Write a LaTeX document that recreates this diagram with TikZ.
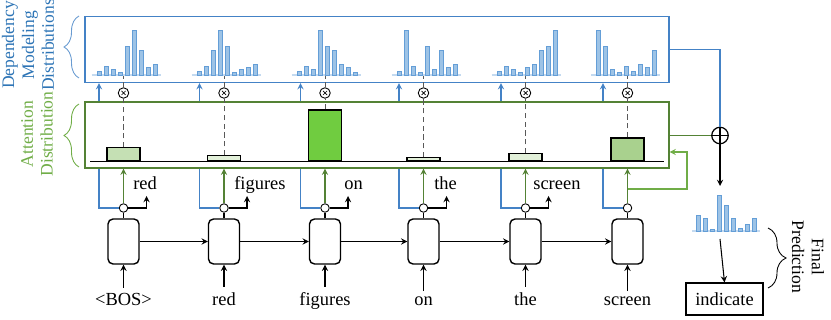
\documentclass[tikz,border=0pt]{standalone}
\usepackage{fontspec}
\setmainfont{Liberation Serif}
\usetikzlibrary{decorations.pathreplacing}
\definecolor{DepBlue}{RGB}{68,130,198}
\definecolor{DepText}{RGB}{46,117,182}
\definecolor{HistFill}{RGB}{157,195,230}
\definecolor{HistEdge}{RGB}{100,158,215}
\definecolor{HistBase}{RGB}{196,218,240}
\definecolor{AttGreen}{RGB}{84,130,53}
\definecolor{AttText}{RGB}{112,173,71}
\definecolor{BarPale}{RGB}{226,240,217}
\definecolor{BarLight}{RGB}{197,224,180}
\definecolor{BarMid}{RGB}{169,209,142}
\definecolor{BarBright}{RGB}{112,204,64}

\begin{document}
\begin{tikzpicture}[x=0.02cm, y=-0.02cm,
        every node/.style={font=\fontsize{10.5}{11.5}\selectfont},
        sidelabel/.style={align=center, font=\fontsize{10}{11.3}\selectfont},
        distbox/.style={draw=DepBlue, line width=0.7pt, minimum width=11.68cm, minimum height=1.32cm, inner sep=0},
        attbox/.style={draw=AttGreen, line width=0.7pt, minimum width=11.68cm, minimum height=1.32cm, inner sep=0},
        cell/.style={draw, line width=0.8pt, rounded corners=0.1cm, minimum width=0.62cm, minimum height=0.9cm, inner sep=0},
        junc/.style={circle, draw, fill=white, line width=0.5pt, minimum size=0.17cm, inner sep=0},
        mult/.style={circle, draw, fill=white, line width=0.5pt, minimum size=0.21cm, inner sep=0,
            path picture={\draw[line width=0.4pt] ([shift={(-2,-2)}]path picture bounding box.center) -- ([shift={(2,2)}]path picture bounding box.center)
                ([shift={(-2,2)}]path picture bounding box.center) -- ([shift={(2,-2)}]path picture bounding box.center);}},
        plus/.style={circle, draw, fill=white, line width=0.7pt, minimum size=0.33cm, inner sep=0,
            path picture={\draw[line width=0.7pt] (path picture bounding box.north) -- (path picture bounding box.south)
                (path picture bounding box.west) -- (path picture bounding box.east);}},
        attbar/.style={draw, line width=0.7pt, minimum width=0.66cm, inner sep=0, anchor=south},
        histbar/.style={fill=HistFill, draw=HistEdge, line width=0.4pt},
        histbase/.style={HistBase, line width=0.9pt},
        dashline/.style={densely dashed, gray!70!black, line width=0.5pt},
        wire/.style={>=stealth, line width=0.6pt},
        bluewire/.style={>=stealth, line width=0.6pt, DepBlue},
        greenwire/.style={>=stealth, line width=0.6pt, AttGreen},
        sidebrace/.style={decorate, decoration={brace, amplitude=0.3cm}, line width=0.5pt}
    ]
    \useasboundingbox (0,0) rectangle (831,320);

    % Boxes
    \node[distbox] (dep) at (377,49.5) {};
    \node[attbox] (att) at (377,135) {};
    \draw[line width=0.75pt] (90,161.5) -- (664,161.5);

    % Side labels
    \node[sidelabel, rotate=90, text=DepText] (deplbl) at (28,45) {Dependency\\Modeling\\Distributions};
    \draw[sidebrace, DepBlue!80] (79,78) -- (79,16);
    \node[sidelabel, rotate=90, text=AttText] (attlbl) at (37,134) {Attention\\Distribution};
    \draw[sidebrace, AttText] (79,167) -- (79,104);

    % Decoder columns
    \foreach \i/\cx/\w in {1/123.5/{<BOS>}, 2/224/red, 3/325/figures, 4/423.5/on, 5/525.5/the, 6/627.5/screen} {
        \node[cell] (c\i) at (\cx,241.5) {};
        \node[junc] (j\i) at (\cx,208) {};
        \node[mult] (m\i) at (\cx,93) {};
        \node[anchor=base] (in\i) at (\cx,306) {\w};
        \coordinate (b\i) at (\cx-24.5,90);
        \coordinate (h\i) at (\cx,75);
        \draw[wire,->] (in\i) -- (c\i.south);
        \draw[wire] (c\i.north) -- (j\i.south);
        \draw[greenwire,->] (j\i.north) -- (j\i |- att.south);
        \draw[bluewire] (j\i.west) -| (b\i |- att.south);
        \draw[bluewire,->] (b\i |- att.north) -- (b\i |- dep.south);
    }
    \foreach \i [count=\k from 2] in {1,...,5}
        \draw[wire,->] (c\i.east) -- (c\k.west);

    % Predicted words
    \foreach \i/\cx/\x/\w in {1/123.5/133/red, 2/224/234/figures, 3/325/344/on, 4/423.5/434/the, 5/525.5/533/screen} {
        \coordinate (o\i) at (\cx+23,196);
        \draw[wire,->] (j\i.east) -| (o\i);
        \node[anchor=base west, inner sep=0] (w\i) at (\x,190) {\w};
    }

    % Attention weights
    \foreach \i/\cx/\bh/\col in {1/123.5/0.26/BarLight, 2/224/0.10/BarPale, 3/325/1.02/BarBright, 4/423.5/0.06/BarPale, 5/525.5/0.14/BarPale, 6/627.5/0.46/BarMid} {
        \node[attbar, fill=\col, minimum height=\bh cm] (a\i) at (\cx,161.5) {};
        \draw[dashline] (a\i.north) -- (m\i.south);
        \draw[dashline] (m\i.north) -- (h\i);
    }

    % Dependency modeling histograms
    \foreach \x/\hs in {99.3/{4,9,5.7,2.7,29,45,25,7.7,10.7}, 199.3/{4,9,25,45,29,2.7,5.7,7.7,10.7},
            299.3/{4,9,5.7,45,29,25,10.7,7.7,2.7}, 399.3/{4,45,9,2.7,29,5.7,25,7.7,10.7},
            499.3/{4,9,5.7,2.7,7.7,10.7,25,29,45}, 598.7/{45,29,5.7,2.7,9,4,10.7,7.7,25}} {
        \draw[histbase] (\x-7.6,75) -- (\x+61.5,75);
        \foreach \h [count=\k from 0] in \hs
            \draw[histbar] (\x+7*\k-2,75) rectangle ++(4,-\h);
    }

    % Feedback of the last step
    \coordinate (fbs) at (627.5,189);
    \coordinate (fbc) at (687,152);
    \draw[AttText, line width=0.6pt, >=stealth, ->] (fbs) -| (fbc) -- (att.east |- fbc);

    % Combination and final prediction
    \node[plus] (sum) at (720,135.5) {};
    \draw[greenwire] (att.east |- sum) -- (sum.west);
    \draw[bluewire] (dep.east) -| (sum.north);
    \coordinate (fin) at (720,186);
    \coordinate (fout) at (720,239);
    \draw[wire,->] (sum.south) -- (fin);
    \draw[histbase] (692,231) -- (760,231);
    \foreach \h [count=\k from 0] in {16,12.7,1.7,36,26,12.7,2.7,7,12.7}
        \draw[histbar] (698.7+7*\k-2,231) rectangle ++(4,-\h);
    \node[draw, line width=0.6pt, minimum width=1.54cm, minimum height=0.64cm] (ind) at (724.5,299) {indicate};
    \draw[wire,->] (fout) -- (ind.north);
    \draw[sidebrace, decoration={amplitude=0.36cm}] (768,228) -- (768,288);
    \node[sidelabel, rotate=-90] (finlbl) at (808,257) {Final\\Prediction};
\end{tikzpicture}
\end{document}
